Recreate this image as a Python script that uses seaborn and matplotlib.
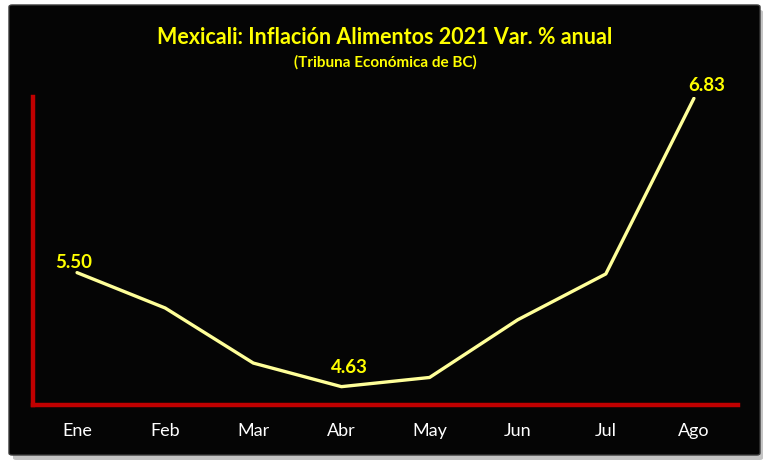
import matplotlib
matplotlib.use("Agg")
import matplotlib.pyplot as plt
import seaborn as sns
import pandas as pd
from matplotlib.patches import FancyBboxPatch

months = ["Ene", "Feb", "Mar", "Abr", "May", "Jun", "Jul", "Ago"]
values = [5.50, 5.23, 4.81, 4.63, 4.70, 5.14, 5.49, 6.83]
labeled = {0: "5.50", 3: "4.63", 7: "6.83"}

title = "Mexicali: Inflación Alimentos 2021 Var. % anual"
subtitle = "(Tribuna Económica de BC)"

sns.set_style("white")
plt.rcParams['font.family'] = ['Lato', 'DejaVu Sans']

fig = plt.figure(figsize=(7.7, 4.7), dpi=100)
fig.patch.set_facecolor("white")

# shadow + black panel
shadow = FancyBboxPatch((13/770, 1 - 460/470), 750/770, 450/470,
                        boxstyle="round,pad=0,rounding_size=0.004",
                        transform=fig.transFigure, facecolor="#c4c4c4",
                        edgecolor="none", zorder=0)
panel = FancyBboxPatch((9/770, 1 - 455/470), 751/770, 450/470,
                       boxstyle="round,pad=0,rounding_size=0.004",
                       transform=fig.transFigure, facecolor="#050505",
                       edgecolor="#3a3a3a", linewidth=1.0, zorder=1)
fig.patches.extend([shadow, panel])

ax = fig.add_axes([33/770, 1 - 405/470, 705/770, 308/470])
ax.set_facecolor("none")
ax.set_zorder(2)

df = pd.DataFrame({"mes": months, "valor": values})
sns.lineplot(data=df, x="mes", y="valor", ax=ax, color="#FFFF99",
             linewidth=2.4, sort=False, solid_joinstyle="round",
             solid_capstyle="round")

ax.set_xlim(-0.5, len(months) - 0.5)
ax.set_ylim(4.49, 6.84)
ax.set_xlabel("")
ax.set_ylabel("")
ax.set_yticks([])
ax.tick_params(axis="x", length=0, colors="white", labelsize=13, pad=13)
for lab in ax.get_xticklabels():
    lab.set_color("white")

for s in ["top", "right"]:
    ax.spines[s].set_visible(False)
for s in ["left", "bottom"]:
    ax.spines[s].set_visible(True)
    ax.spines[s].set_color("#C00000")
    ax.spines[s].set_linewidth(3.2)

offsets = {0: (-2.7, 3.6), 3: (5.8, 10), 7: (9.4, 5)}
for i, txt in labeled.items():
    ax.annotate(txt, (i, values[i]), xytext=offsets[i], textcoords="offset points",
                ha="center", va="baseline", color="#FFFF00", fontsize=13.5,
                fontweight="bold", annotation_clip=False)

fig.text(0.5, 1 - 38/470, title, ha="center", va="center", color="#FFFF00",
         fontsize=15.5, fontweight="bold")
fig.text(0.5, 1 - 62/470, subtitle, ha="center", va="center", color="#FFFF00",
         fontsize=11, fontweight="bold")

fig.savefig("out.png", dpi=100, facecolor=fig.get_facecolor())
